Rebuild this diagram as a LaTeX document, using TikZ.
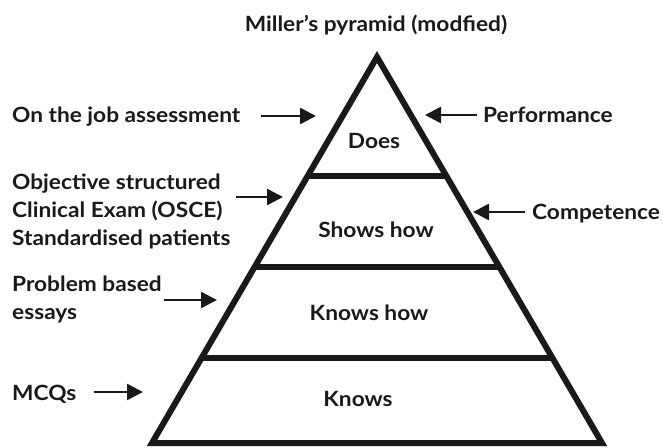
\documentclass[tikz,border=0pt]{standalone}
\usepackage{fontspec}
\setmainfont{Lato}[FakeStretch=1.08]
\usetikzlibrary{calc,arrows.meta,positioning}

\begin{document}
\begin{tikzpicture} [x=1pt,y=-1pt,{lbl/.style={font=\bfseries\fontsize{21}{28}\selectfont,inner sep=0pt,text=black!90}},{side/.style={align=left}},{pointer/.style={-{Triangle[length=16pt,width=16pt]},line width=2.5pt,color=black!90}},{wall/.style={line width=6pt,line join=miter,color=black!90}}]
	%%frame of picture
	\useasboundingbox (0,0) rectangle (663,447);
	%%corners of pyramid
	\coordinate (T) at (377,57);
	\coordinate (L) at (152,443);
	\coordinate (R) at (602,443);
	%%pyramid
	\draw [wall] (T) -- (R) -- (L) -- cycle;
	%%levels
	\foreach \y in {176,267,357.5}
		\draw [wall] ($(T)!{(\y-57)/386}!(L)$) -- ($(T)!{(\y-57)/386}!(R)$);
	%%title
	\node [lbl] (title) at (376,25) {Miller’s pyramid (modfied)};
	%%names of levels
	\node [lbl] (does) at (374,141) {Does};
	\node [lbl] (shows) at (376,230) {Shows how};
	\node [lbl] (knowshow) at (369,313) {Knows how};
	\node [lbl] (knows) at (358,399) {Knows};
	%%assessment methods
	\node [lbl,anchor=base west] (job) at (12,122) {On the job assessment};
	\node [lbl,side,anchor=north west] (osce) at (12,174) {Objective structured\\Clinical Exam (OSCE)\\Standardised patients};
	\node [lbl,side,anchor=north west] (pbl) at (12,276) {Problem based\\essays};
	\node [lbl,anchor=base west] (mcq) at (12,400) {MCQs};
	%%what is tested
	\node [lbl,anchor=base west] (perf) at (483,122) {Performance};
	\node [lbl,anchor=base west] (comp) at (532,219.5) {Competence};
	%%tips of arrows
	\coordinate (jobtip) at (316,116);
	\coordinate (oscetip) at (283,197);
	\coordinate (pbltip) at (217,300);
	\coordinate (mcqtip) at (143,392);
	\coordinate (perftip) at (425,115);
	\coordinate (comptip) at (473,212);
	%%arrows
	\draw [pointer,shorten <=20pt] (job.east |- jobtip) -- (jobtip);
	\draw [pointer,shorten <=5pt] (osce.east |- oscetip) -- (oscetip);
	\draw [pointer,shorten <=2pt] (pbl.east |- pbltip) -- (pbltip);
	\draw [pointer,shorten <=17pt] (mcq.east |- mcqtip) -- (mcqtip);
	\draw [pointer,shorten <=6pt] (perf.west |- perftip) -- (perftip);
	\draw [pointer,shorten <=7pt] (comp.west |- comptip) -- (comptip);
\end{tikzpicture}
\end{document}
